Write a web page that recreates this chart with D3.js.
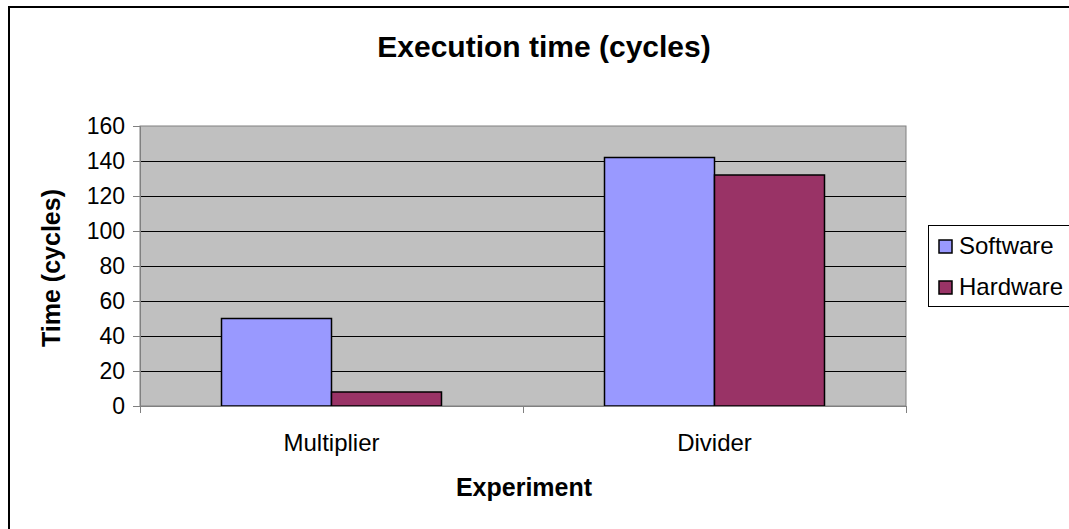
<!DOCTYPE html>
<html>
<head>
<meta charset="utf-8">
<script src="https://cdn.jsdelivr.net/npm/d3@7"></script>
<style>
  html, body { margin: 0; background: #fff; overflow: hidden; }
  svg { display: block; }
  text { font-family: "Liberation Sans", Arial, sans-serif; fill: #000; }
</style>
</head>
<body>
<div id="chart"></div>
<script>
;(function() {
  // chart values
  var categories = ['Multiplier', 'Divider']
  var seriesNames = ['Software', 'Hardware']
  var software = [50, 142]
  var hardware = [8, 132]
  var yTicks = [0, 20, 40, 60, 80, 100, 120, 140, 160]

  var colors = ['#9999ff', '#993366']
  var W = 1069, H = 529
  var plot = { left: 140, top: 126, right: 906, bottom: 406 }

  var svg = d3.select('#chart').append('svg')
    .attr('width', W).attr('height', H)

  // outer chart border: only top and left edges are in the picture
  svg.append('path')
    .attr('d', 'M9,' + (H + 5) + 'V7H' + (W + 5))
    .attr('fill', 'none').attr('stroke', '#000').attr('stroke-width', 2)

  var y = d3.scaleLinear().domain([0, 160]).range([plot.bottom, plot.top])
  var x0 = d3.scaleBand().domain(categories)
    .range([plot.left, plot.right])
    .paddingInner(0.4256).paddingOuter(0.2128)
  var x1 = d3.scaleBand().domain(seriesNames).range([0, x0.bandwidth()])

  // plot background
  svg.append('rect')
    .attr('x', plot.left).attr('y', plot.top)
    .attr('width', plot.right - plot.left).attr('height', plot.bottom - plot.top)
    .attr('fill', '#c0c0c0')
    .attr('stroke', '#808080').attr('stroke-width', 1)

  // gridlines
  svg.append('g').selectAll('line')
    .data(yTicks.filter(d => d > 0 && d < 160))
    .enter().append('line')
    .attr('x1', plot.left).attr('x2', plot.right)
    .attr('y1', d => Math.round(y(d)) + 0.5).attr('y2', d => Math.round(y(d)) + 0.5)
    .attr('stroke', '#000').attr('stroke-width', 1)

  // bars
  var rows = categories.map((c, i) => ({ cat: c, vals: [software[i], hardware[i]] }))
  var groups = svg.append('g').selectAll('g')
    .data(rows).enter().append('g')
    .attr('transform', d => 'translate(' + x0(d.cat) + ',0)')
  groups.selectAll('rect')
    .data(d => d.vals.map((v, j) => ({ name: seriesNames[j], v: v, j: j })))
    .enter().append('rect')
    .attr('x', d => x1(d.name))
    .attr('width', x1.bandwidth())
    .attr('y', d => y(d.v))
    .attr('height', d => y(0) - y(d.v))
    .attr('fill', d => colors[d.j])
    .attr('stroke', '#000').attr('stroke-width', 1.5)

  // y axis
  var yAxis = d3.axisLeft(y).tickValues(yTicks).tickSize(7).tickPadding(8)
  var ya = svg.append('g')
    .attr('transform', 'translate(' + plot.left + ',0)')
    .call(yAxis)
  ya.select('.domain').attr('stroke', '#808080')
  ya.selectAll('.tick line').attr('stroke', '#808080')
  ya.selectAll('text').style('font-size', '23px').attr('fill', '#000')

  // x axis: labels at centres, ticks at category boundaries
  var xa = svg.append('g')
    .attr('transform', 'translate(0,' + plot.bottom + ')')
    .call(d3.axisBottom(x0).tickSize(0).tickPadding(28).tickSizeOuter(0))
  xa.select('.domain').attr('stroke', '#808080')
  xa.selectAll('text').style('font-size', '24px').attr('fill', '#000')
  var bounds = [plot.left].concat(categories.map(c => x0(c) + x0.bandwidth() + x0.step() * x0.paddingOuter()))
  xa.selectAll('.bound').data(bounds).enter().append('line')
    .attr('class', 'bound')
    .attr('x1', d => Math.round(d) + 0.5).attr('x2', d => Math.round(d) + 0.5)
    .attr('y1', 0).attr('y2', 7)
    .attr('stroke', '#808080')

  // titles
  svg.append('text')
    .attr('x', 544).attr('y', 57)
    .attr('text-anchor', 'middle')
    .style('font-size', '30px').style('font-weight', 'bold')
    .text('Execution time (cycles)')

  svg.append('text')
    .attr('transform', 'translate(60,268) rotate(-90)')
    .attr('text-anchor', 'middle')
    .style('font-size', '25px').style('font-weight', 'bold')
    .text('Time (cycles)')

  svg.append('text')
    .attr('x', 524).attr('y', 496)
    .attr('text-anchor', 'middle')
    .style('font-size', '25px').style('font-weight', 'bold')
    .text('Experiment')

  // legend
  var legend = svg.append('g')
  legend.append('rect')
    .attr('x', 928.5).attr('y', 225.5)
    .attr('width', 160).attr('height', 81)
    .attr('fill', '#fff').attr('stroke', '#000').attr('stroke-width', 1)
  var items = legend.selectAll('g.item').data(seriesNames).enter().append('g')
    .attr('class', 'item')
    .attr('transform', (d, i) => 'translate(0,' + (i * 41) + ')')
  items.append('rect')
    .attr('x', 939).attr('y', 240)
    .attr('width', 13).attr('height', 13)
    .attr('fill', (d, i) => colors[i])
    .attr('stroke', '#000').attr('stroke-width', 1.5)
  items.append('text')
    .attr('x', 959).attr('y', 254)
    .style('font-size', '24px')
    .text(d => d)
})()
</script>
</body>
</html>
